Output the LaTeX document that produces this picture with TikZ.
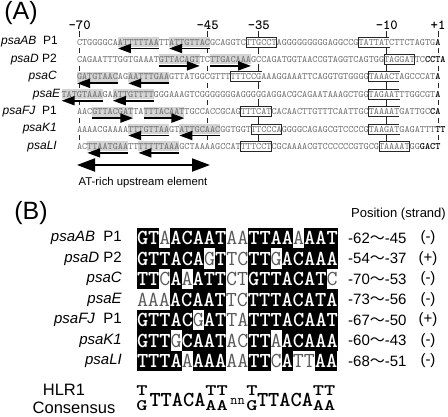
\documentclass[tikz,border=0pt]{standalone}
\usepackage{fontspec}
\setmainfont{Liberation Sans}
\newfontfamily\cjk{Noto Sans CJK JP}
\usepackage{graphicx}
\usetikzlibrary{positioning,arrows.meta}
\definecolor{seqgray}{gray}{0.42}
\definecolor{shadegray}{gray}{0.83}
\definecolor{offgray}{gray}{0.35}
\newcommand{\flatl}[1]{\scalebox{1}[.75]{#1}}
\begin{document}
\begin{tikzpicture}[x=1pt,y=-1pt,
  seq/.style={inner sep=0pt, outer sep=0pt, minimum height=10pt, text height=6pt, text depth=0pt, fill=white, text=seqgray, font=\fontsize{9.75}{10}\ttfamily},
  shade/.style={seq, fill=shadegray},
  tbox/.style={seq, draw=black!85, line width=0.7pt},
  tss/.style={seq, text=black, font=\fontsize{9.75}{10}\ttfamily\bfseries},
  gene/.style={anchor=east, inner sep=0pt, font=\fontsize{12}{12}\selectfont},
  tick/.style={inner sep=1.5pt, font=\fontsize{14}{14}\ttfamily\bfseries},
  guide/.style={line width=0.8pt, black!85},
  hlarr/.style={line width=1.8pt, -{Triangle[length=13pt,width=9pt]}},
  bcell/.style={inner sep=0pt, outer sep=0pt, minimum height=20.5pt, text height=13pt, text depth=0pt, font=\fontsize{21.33}{21}\ttfamily},
  bon/.style={bcell, fill=black, text=white, font=\fontsize{21.33}{21}\ttfamily\bfseries},
  boff/.style={bcell, text=offgray},
  bgene/.style={anchor=east, inner sep=0pt, font=\fontsize{15}{15}\selectfont},
  posn/.style={anchor=west, inner sep=0pt, font=\fontsize{15}{15}\selectfont},
  strand/.style={inner sep=0pt, font=\fontsize{15}{15}\selectfont},
  csm/.style={inner sep=0pt, font=\fontsize{21.33}{21}\ttfamily\bfseries},
  panel/.style={inner sep=0pt, font=\fontsize{25}{25}\selectfont}]
\useasboundingbox (0,0) rectangle (448,416);
\node[panel] (pA) at (21,13) {(A)};
\node[tick] (t70) at (79.6,25) {-70};
\node[tick] (t45) at (207.6,25) {-45};
\node[tick] (t35) at (258.8,25) {-35};
\node[tick] (t10) at (386.8,25) {-10};
\node[tick] (t1) at (438,25) {+1};
\coordinate (g70) at (79.6,37);
\coordinate (h70) at (79.6,141.4);
\coordinate (g45) at (207.6,37);
\coordinate (h45) at (207.6,141.4);
\coordinate (g1) at (438,37);
\coordinate (h1) at (438,141.4);
\coordinate (h35) at (258.8,141.4);
\coordinate (h10) at (386.8,141.4);
\draw[guide] (t70.south) -- (g70);
\draw[guide, dash pattern=on 5pt off 12.4pt, dash phase=6.2pt] (g70) -- (h70);
\draw[guide] (t45.south) -- (g45);
\draw[guide, dash pattern=on 5pt off 12.4pt, dash phase=6.2pt] (g45) -- (h45);
\draw[guide] (t1.south) -- (g1);
\draw[guide, dash pattern=on 5pt off 12.4pt, dash phase=6.2pt] (g1) -- (h1);
\draw[guide] (t35.south) -- (h35);
\draw[guide] (t10.south) -- (h10);
\node[gene] (nAB) at (58,42) {\textit{psaAB}\ \ P1};
\node[seq, anchor=west] (aAB1) at (77,42) {CTGGGGCA};
\node[shade, right=0pt of aAB1] (aAB2) {ATTTTTAA};
\node[seq, right=0pt of aAB2] (aAB3) {TT};
\node[shade, right=0pt of aAB3] (aAB4) {ATTGTTAC};
\node[seq, right=0pt of aAB4] (aAB5) {GCAGGTC};
\node[tbox, right=0pt of aAB5] (aAB6) {TTGCCT};
\node[seq, right=0pt of aAB6] (aAB7) {AGGGGGGGGGAGGCCG};
\node[tbox, right=0pt of aAB7] (aAB8) {TATTAT};
\node[seq, right=0pt of aAB8] (aAB9) {CTTCTAGTG};
\node[tss, right=0pt of aAB9] (aAB10) {A};
\draw[hlarr] ([yshift=-1.5pt]aAB2.south east) -- ([yshift=-1.5pt]aAB2.south west);
\draw[hlarr] ([yshift=-1.5pt]aAB4.south east) -- ([yshift=-1.5pt]aAB4.south west);
\node[gene] (nD) at (57,59.4) {\textit{psaD} P2};
\node[seq, anchor=west] (aD1) at (77,59.4) {CAGAATTTGGTGAAAT};
\node[shade, right=0pt of aD1] (aD2) {GTTACAGT};
\node[seq, right=0pt of aD2] (aD3) {TC};
\node[shade, right=0pt of aD3] (aD4) {TTGACAAA};
\node[seq, right=0pt of aD4] (aD5) {GCCAGATGGTAACCGTAGGTCAGTGG};
\node[tbox, right=0pt of aD5] (aD6) {TAGGAT};
\node[seq, right=0pt of aD6] (aD7) {TC};
\node[tss, right=0pt of aD7] (aD8) {CCTA};
\draw[hlarr] ([yshift=-1.5pt]aD2.south west) -- ([yshift=-1.5pt]aD2.south east);
\draw[hlarr] ([yshift=-1.5pt]aD4.south west) -- ([yshift=-1.5pt]aD4.south east);
\node[gene] (nC) at (57,76.8) {\textit{psaC}};
\node[shade, anchor=west] (aC1) at (77,76.8) {GATGTAAC};
\node[seq, right=0pt of aC1] (aC2) {AG};
\node[shade, right=0pt of aC2] (aC3) {AATTTGAA};
\node[seq, right=0pt of aC3] (aC4) {GTTATGGCGTTT};
\node[tbox, right=0pt of aC4] (aC5) {TTTCCG};
\node[seq, right=0pt of aC5] (aC6) {AAAGGAAATTCAGGTGTGGGG};
\node[tbox, right=0pt of aC6] (aC7) {TAAACT};
\node[seq, right=0pt of aC7] (aC8) {AGCCCAT};
\node[tss, right=0pt of aC8] (aC9) {A};
\draw[hlarr] ([yshift=-1.5pt]aC1.south east) -- ([yshift=-1.5pt]aC1.south west);
\draw[hlarr] ([yshift=-1.5pt]aC3.south east) -- ([yshift=-1.5pt]aC3.south west);
\node[gene] (nE) at (60.5,94.2) {\textit{psaE}};
\node[shade, anchor=west] (aE1) at (61.6,94.2) {TATGTAAA};
\node[seq, right=0pt of aE1] (aE2) {GA};
\node[shade, right=0pt of aE2] (aE3) {ATTGTTTT};
\node[seq, right=0pt of aE3] (aE4) {GGGAAAGTCGGGGGGGAGGGGGAGGACGCAGAATAAAGCTGG};
\node[tbox, right=0pt of aE4] (aE5) {TAGAAT};
\node[seq, right=0pt of aE5] (aE6) {TTGGCGT};
\node[tss, right=0pt of aE6] (aE7) {A};
\draw[hlarr] ([yshift=-1.5pt]aE1.south east) -- ([yshift=-1.5pt]aE1.south west);
\draw[hlarr] ([yshift=-1.5pt]aE3.south east) -- ([yshift=-1.5pt]aE3.south west);
\node[gene] (nFJ) at (57,111.6) {\textit{psaFJ}\ \ P1};
\node[seq, anchor=west] (aFJ1) at (77,111.6) {AAC};
\node[shade, right=0pt of aFJ1] (aFJ2) {GTTACGAT};
\node[seq, right=0pt of aFJ2] (aFJ3) {TA};
\node[shade, right=0pt of aFJ3] (aFJ4) {TTTACAAT};
\node[seq, right=0pt of aFJ4] (aFJ5) {TGCCACCGCAG};
\node[tbox, right=0pt of aFJ5] (aFJ6) {TTTCAT};
\node[seq, right=0pt of aFJ6] (aFJ7) {CACAACTTGTTTCAATTGC};
\node[tbox, right=0pt of aFJ7] (aFJ8) {TAAAAT};
\node[seq, right=0pt of aFJ8] (aFJ9) {GATTGC};
\node[tss, right=0pt of aFJ9] (aFJ10) {CA};
\draw[hlarr] ([yshift=-1.5pt]aFJ2.south west) -- ([yshift=-1.5pt]aFJ2.south east);
\draw[hlarr] ([yshift=-1.5pt]aFJ4.south west) -- ([yshift=-1.5pt]aFJ4.south east);
\node[gene] (nK) at (57,129) {\textit{psaK1}};
\node[seq, anchor=west] (aK1) at (77,129) {AAAACGAAAA};
\node[shade, right=0pt of aK1] (aK2) {TTTGTTAA};
\node[seq, right=0pt of aK2] (aK3) {GT};
\node[shade, right=0pt of aK3] (aK4) {ATTGCAAC};
\node[seq, right=0pt of aK4] (aK5) {GGTGGT};
\node[tbox, right=0pt of aK5] (aK6) {TTCCCA};
\node[seq, right=0pt of aK6] (aK7) {GGGGCAGAGCGTCCCCG};
\node[tbox, right=0pt of aK7] (aK8) {TAAGAT};
\node[seq, right=0pt of aK8] (aK9) {GAGATTT};
\node[tss, right=0pt of aK9] (aK10) {TT};
\draw[hlarr] ([yshift=-1.5pt]aK2.south east) -- ([yshift=-1.5pt]aK2.south west);
\draw[hlarr] ([yshift=-1.5pt]aK4.south east) -- ([yshift=-1.5pt]aK4.south west);
\node[gene] (nL) at (57,146.4) {\textit{psaLI}};
\node[seq, anchor=west] (aL1) at (77,146.4) {AC};
\node[shade, right=0pt of aL1] (aL2) {TTAATGAA};
\node[seq, right=0pt of aL2] (aL3) {TT};
\node[shade, right=0pt of aL3] (aL4) {TTTTTAAA};
\node[seq, right=0pt of aL4] (aL5) {GCTAAAAGCCAT};
\node[tbox, right=0pt of aL5] (aL6) {TTTCCT};
\node[seq, right=0pt of aL6] (aL7) {CGCAAAACGTCCCCCCGTGCG};
\node[tbox, right=0pt of aL7] (aL8) {TAAAAT};
\node[seq, right=0pt of aL8] (aL9) {GG};
\node[tss, right=0pt of aL9] (aL10) {GACT};
\draw[hlarr] ([yshift=-1.5pt]aL2.south east) -- ([yshift=-1.5pt]aL2.south west);
\draw[hlarr] ([yshift=-1.5pt]aL4.south east) -- ([yshift=-1.5pt]aL4.south west);
\coordinate (atl) at (77,165);
\coordinate (atr) at (210,165);
\draw[line width=2pt, {Triangle[length=18pt,width=13pt]}-{Triangle[length=18pt,width=13pt]}] (atl) -- (atr);
\node[font=\fontsize{11.3}{12}\selectfont] (atlab) at (143,183) {AT-rich upstream element};
\node[panel] (pB) at (31,213) {(B)};
\node[anchor=east, inner sep=0pt, font=\fontsize{13}{13}\selectfont] (phd) at (446,214) {Position (strand)};
\node[bgene] (gAB) at (122,238) {\textit{psaAB}\ \ P1};
\node[bon, anchor=west] (bAB1) at (137,238) {GT};
\node[boff, right=0pt of bAB1] (bAB2) {A};
\node[bon, right=0pt of bAB2] (bAB3) {ACAAT};
\node[boff, right=0pt of bAB3] (bAB4) {AA};
\node[bon, right=0pt of bAB4] (bAB5) {TTAA};
\node[boff, right=0pt of bAB5] (bAB6) {A};
\node[bon, right=0pt of bAB6] (bAB7) {AAT};
\node[posn] (pAB) at (348,238) {-62{\cjk ～}-45};
\node[strand] (sAB) at (428,238) {(-)};
\node[bgene] (gD) at (122,258.5) {\textit{psaD} P2};
\node[bon, anchor=west] (bD1) at (137,258.5) {GTTACA};
\node[boff, right=0pt of bD1] (bD2) {G};
\node[bon, right=0pt of bD2] (bD3) {T};
\node[boff, right=0pt of bD3] (bD4) {TC};
\node[bon, right=0pt of bD4] (bD5) {TT};
\node[boff, right=0pt of bD5] (bD6) {G};
\node[bon, right=0pt of bD6] (bD7) {ACAAA};
\node[posn] (pD) at (348,258.5) {-54{\cjk ～}-37};
\node[strand] (sD) at (428,258.5) {(+)};
\node[bgene] (gC) at (122,279) {\textit{psaC}};
\node[bon, anchor=west] (bC1) at (137,279) {TT};
\node[boff, right=0pt of bC1] (bC2) {C};
\node[bon, right=0pt of bC2] (bC3) {A};
\node[boff, right=0pt of bC3] (bC4) {A};
\node[bon, right=0pt of bC4] (bC5) {ATT};
\node[boff, right=0pt of bC5] (bC6) {CT};
\node[bon, right=0pt of bC6] (bC7) {GTTACAT};
\node[boff, right=0pt of bC7] (bC8) {C};
\node[posn] (pC) at (348,279) {-70{\cjk ～}-53};
\node[strand] (sC) at (428,279) {(-)};
\node[bgene] (gE) at (122,299.5) {\textit{psaE}};
\node[boff, anchor=west] (bE1) at (137,299.5) {AAA};
\node[bon, right=0pt of bE1] (bE2) {ACAAT};
\node[boff, right=0pt of bE2] (bE3) {TC};
\node[bon, right=0pt of bE3] (bE4) {TTTACATA};
\node[posn] (pE) at (348,299.5) {-73{\cjk ～}-56};
\node[strand] (sE) at (428,299.5) {(-)};
\node[bgene] (gFJ) at (122,320) {\textit{psaFJ}\ \ P1};
\node[bon, anchor=west] (bFJ1) at (137,320) {GTTAC};
\node[boff, right=0pt of bFJ1] (bFJ2) {G};
\node[bon, right=0pt of bFJ2] (bFJ3) {AT};
\node[boff, right=0pt of bFJ3] (bFJ4) {TA};
\node[bon, right=0pt of bFJ4] (bFJ5) {TTTACAAT};
\node[posn] (pFJ) at (348,320) {-67{\cjk ～}-50};
\node[strand] (sFJ) at (428,320) {(+)};
\node[bgene] (gK) at (122,340.5) {\textit{psaK1}};
\node[bon, anchor=west] (bK1) at (137,340.5) {GTT};
\node[boff, right=0pt of bK1] (bK2) {G};
\node[bon, right=0pt of bK2] (bK3) {CAAT};
\node[boff, right=0pt of bK3] (bK4) {AC};
\node[bon, right=0pt of bK4] (bK5) {TT};
\node[boff, right=0pt of bK5] (bK6) {A};
\node[bon, right=0pt of bK6] (bK7) {ACAAA};
\node[posn] (pK) at (348,340.5) {-60{\cjk ～}-43};
\node[strand] (sK) at (428,340.5) {(-)};
\node[bgene] (gL) at (122,361) {\textit{psaLI}};
\node[bon, anchor=west] (bL1) at (137,361) {TTTA};
\node[boff, right=0pt of bL1] (bL2) {A};
\node[bon, right=0pt of bL2] (bL3) {AAA};
\node[boff, right=0pt of bL3] (bL4) {AA};
\node[bon, right=0pt of bL4] (bL5) {TT};
\node[boff, right=0pt of bL5] (bL6) {C};
\node[bon, right=0pt of bL6] (bL7) {A};
\node[boff, right=0pt of bL7] (bL8) {TT};
\node[bon, right=0pt of bL8] (bL9) {AA};
\node[posn] (pL) at (348,361) {-68{\cjk ～}-51};
\node[strand] (sL) at (428,361) {(-)};
\node[font=\fontsize{16.5}{17}\selectfont] (hlr) at (64,390) {HLR1};
\node[font=\fontsize{16.5}{17}\selectfont] (cons) at (74,407.5) {Consensus};
\node[csm] (c1t) at (142,391) {\flatl{T}};
\node[csm] (c1b) at (142,406) {\flatl{G}};
\node[csm] (c2) at (177.5,399.5) {TTACA};
\node[csm] (c3t) at (216.5,391) {\flatl{TT}};
\node[csm] (c3b) at (216.5,406) {\flatl{AA}};
\node[inner sep=0pt, font=\fontsize{14}{14}\ttfamily] (cn) at (237.5,401.5) {nn};
\node[csm] (c4t) at (252,391) {\flatl{T}};
\node[csm] (c4b) at (252,406) {\flatl{G}};
\node[csm] (c5) at (285,399.5) {TTACA};
\node[csm] (c6t) at (324,391) {\flatl{TT}};
\node[csm] (c6b) at (324,406) {\flatl{AA}};
\end{tikzpicture}
\end{document}
